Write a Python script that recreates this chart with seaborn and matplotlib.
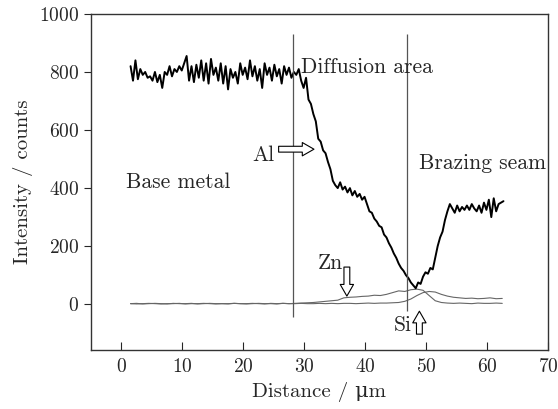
import numpy as np
import pandas as pd
import matplotlib
matplotlib.use("Agg")
import matplotlib.pyplot as plt
import seaborn as sns

# Al line scan, one reading every 0.4 um starting at 1.5 um
al_start, al_step = 1.5, 0.4
al_counts = [
    820, 770, 840, 775, 810, 790, 800, 780, 785, 770, 800, 765, 790, 745, 800, 790,
    820, 785, 810, 800, 820, 805, 830, 855, 770, 820, 765, 825, 780, 840, 770, 830,
    760, 845, 790, 815, 770, 830, 760, 820, 740, 810, 780, 800, 760, 830, 790, 815,
    775, 840, 785, 820, 770, 810, 745, 830, 790, 815, 770, 825, 785, 810, 760, 820,
    790, 815, 780, 800, 790,
    810, 770, 745, 780, 705, 690, 655, 630, 570, 560, 530, 520, 490, 465, 425, 410,
    400, 420, 395, 405, 385, 400, 375, 390, 370, 380, 360, 370, 345, 320, 315, 295,
    285, 270, 265, 240, 230, 210, 195, 175, 160, 140, 125, 115, 100, 90, 75, 65,
    55, 75, 70, 95, 110, 105, 125, 120, 160, 200, 230, 250, 290, 320, 345, 330,
    315, 340, 320, 335, 325, 340, 325, 345, 330, 320, 340, 315, 350, 325, 360, 300,
    365, 320, 345, 350, 355,
]

# Zn and Si line scans, one reading every 1 um starting at 1.5 um
el_start, el_step = 1.5, 1.0
zn_counts = [
    2, 3, 1, 2, 3, 2, 1, 3, 2, 2, 3, 1, 2, 3, 2, 2, 1, 3, 2, 2, 3, 2, 1, 3, 2, 3, 2, 3,
    4, 5, 6, 8, 10, 12, 14, 22, 24, 25, 27, 28, 31, 30, 34, 40, 46, 44, 50, 52, 48, 30,
    12, 6, 4, 3, 4, 3, 2, 4, 3, 3, 4, 3,
]
si_counts = [
    2, 1, 2, 3, 2, 1, 2, 2, 3, 1, 2, 2, 3, 2, 1, 2, 2, 3, 2, 1, 2, 3, 2, 2, 1, 3, 2, 2,
    3, 2, 2, 3, 2, 3, 2, 3, 3, 2, 3, 4, 3, 4, 4, 5, 6, 10, 18, 30, 40, 44, 42, 34,
    28, 24, 22, 20, 21, 19, 20, 22, 19, 20,
]

boundaries = [28.2, 46.8]

al = pd.DataFrame({"x": al_start + al_step * np.arange(len(al_counts)), "y": al_counts})
zn = pd.DataFrame({"x": el_start + el_step * np.arange(len(zn_counts)), "y": zn_counts})
si = pd.DataFrame({"x": el_start + el_step * np.arange(len(si_counts)), "y": si_counts})

sns.set_style("ticks")
plt.rcParams["font.family"] = ["cmr10", "DejaVu Serif"]
plt.rcParams["axes.unicode_minus"] = False
plt.rcParams["axes.formatter.use_mathtext"] = True
fs = 14
fs_txt = 15.5

fig = plt.figure(figsize=(5.58, 4.09), dpi=100)
ax = fig.add_axes([0.163, 0.144, 0.819, 0.822])

sns.lineplot(data=zn, x="x", y="y", color="#666666", lw=0.8, ax=ax)
sns.lineplot(data=si, x="x", y="y", color="#666666", lw=0.8, ax=ax)
sns.lineplot(data=al, x="x", y="y", color="black", lw=1.4, ax=ax)

ax.vlines(boundaries[0], -45, 930, color="#555555", lw=0.9)
ax.vlines(boundaries[1], -25, 930, color="#555555", lw=0.9)

ax.set_xlim(-5, 70)
ax.set_ylim(-158, 1000)
ax.set_xticks(range(0, 71, 10))
ax.set_yticks(range(0, 1001, 200))
ax.tick_params(axis="x", direction="in", length=6, labelsize=fs, pad=6)
ax.tick_params(axis="y", direction="out", length=5, labelsize=fs)
for s in ax.spines.values():
    s.set_visible(True)
    s.set_linewidth(1.0)
    s.set_color("#333333")

ax.set_xlabel("Distance / μm", fontsize=15)
ax.set_ylabel("Intensity / counts", fontsize=15)

ax.text(29.4, 815, "Diffusion area", fontsize=fs_txt, va="center", ha="left")
ax.text(0.8, 420, "Base metal", fontsize=fs_txt, va="center", ha="left")
ax.text(48.9, 486, "Brazing seam", fontsize=fs_txt, va="center", ha="left")
ax.text(21.4, 514, "Al", fontsize=fs_txt, va="center", ha="left")
ax.text(32.3, 141, "Zn", fontsize=fs_txt, va="center", ha="left")
ax.text(44.7, -72, "Si", fontsize=fs_txt, va="center", ha="left")

arrow = dict(arrowstyle="simple,head_length=0.7,head_width=0.8,tail_width=0.35",
             fc="white", ec="black", lw=0.8, mutation_scale=12, shrinkA=0, shrinkB=0)
ax.annotate("", xy=(31.6, 534), xytext=(25.8, 534), arrowprops=arrow)
ax.annotate("", xy=(37.0, 28), xytext=(37.0, 128), arrowprops=arrow)
ax.annotate("", xy=(48.9, -24), xytext=(48.9, -103), arrowprops=arrow)

fig.savefig("out.png", dpi=100)
plt.close()
